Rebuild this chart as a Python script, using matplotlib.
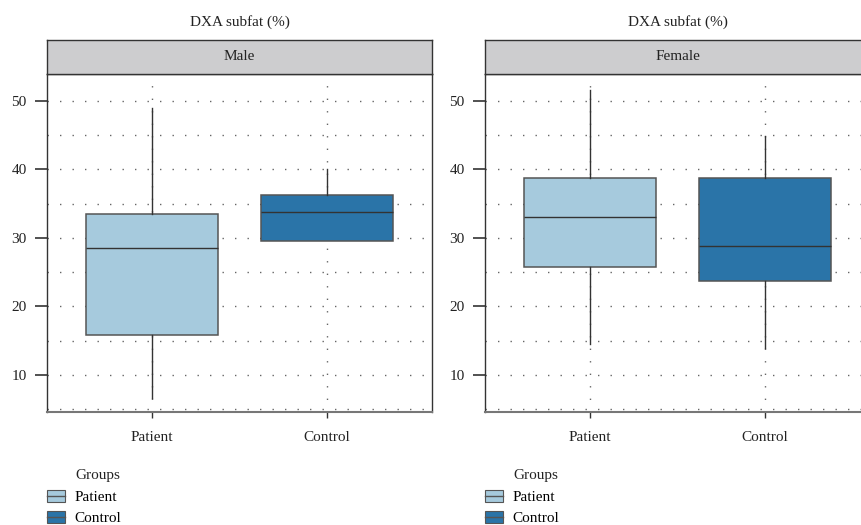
import numpy as np
import matplotlib.pyplot as plt
from matplotlib.patches import Patch
from matplotlib.lines import Line2D

plt.rcParams['font.family'] = ['Liberation Serif', 'DejaVu Serif']

# values (DXA subfat %)
panels = ['Male', 'Female']
groups = ['Patient', 'Control']
whislo = {'Male': [6.6, 29.6], 'Female': [14.5, 14.0]}
q1 = {'Male': [15.8, 29.6], 'Female': [25.8, 23.7]}
med = {'Male': [28.5, 33.8], 'Female': [33.1, 28.8]}
q3 = {'Male': [33.5, 36.2], 'Female': [38.7, 38.7]}
whishi = {'Male': [49.0, 40.1], 'Female': [51.6, 44.8]}
yticks = [10, 20, 30, 40, 50]
colors = ['#a6cadd', '#2a74a8']

W, H = 861, 525
fig = plt.figure(figsize=(W / 100, H / 100), dpi=100)

lefts = [47, 485]
ax_w, top, bottom, strip_h = 385, 74, 412, 34
fs = 11
grid_kw = dict(color='#666666', lw=1.0, dashes=(1, 8), zorder=0)

for panel, lx in zip(panels, lefts):
    ax = fig.add_axes([lx / W, (H - bottom) / H, ax_w / W, (bottom - top) / H])
    stats = []
    for i, g in enumerate(groups):
        stats.append(dict(label=g, whislo=whislo[panel][i], q1=q1[panel][i],
                          med=med[panel][i], q3=q3[panel][i],
                          whishi=whishi[panel][i], fliers=[]))
    bp = ax.bxp(stats, positions=[1, 2], widths=0.75, patch_artist=True,
                showcaps=False, showfliers=False,
                boxprops=dict(edgecolor='#555555', linewidth=1.1),
                medianprops=dict(color='#333333', linewidth=1.0),
                whiskerprops=dict(color='#333333', linewidth=1.0))
    for box, c in zip(bp['boxes'], colors):
        box.set_facecolor(c)
        box.set_zorder(2)
    for y in np.arange(5, 55, 5):
        ax.axhline(y, **grid_kw)
    for x in [1, 2]:
        ax.axvline(x, **grid_kw)
    ax.set_xlim(0.4, 2.6)
    ax.set_ylim(4.6, 53.9)
    ax.set_yticks(yticks)
    ax.set_xticks([1, 2])
    ax.set_xticklabels(groups)
    ax.tick_params(axis='y', length=8.6, width=1.2, color='#333333',
                   labelsize=fs, pad=6, labelcolor='#222222')
    ax.tick_params(axis='x', length=4.5, width=1.0, color='#333333',
                   labelsize=fs, pad=9, labelcolor='#222222')
    for s in ax.spines.values():
        s.set_color('#333333')
        s.set_linewidth(1.0)
    ax.spines['bottom'].set_color('#777777')
    ax.spines['bottom'].set_linewidth(1.5)

    # strip
    sax = fig.add_axes([lx / W, (H - top) / H, ax_w / W, strip_h / H])
    sax.set_facecolor('#cdcdcf')
    sax.set_xticks([])
    sax.set_yticks([])
    for s in sax.spines.values():
        s.set_color('#333333')
        s.set_linewidth(1.0)
    sax.text(0.5, 0.5, panel, ha='center', va='center', fontsize=fs,
             color='#222222', transform=sax.transAxes)
    fig.text((lx + ax_w / 2) / W, (H - 22) / H, 'DXA subfat (%)', ha='center',
             va='center', fontsize=fs, color='#222222')

    # legend
    handles = [(Patch(facecolor=c, edgecolor='#555555', lw=0.8),
                Line2D([], [], color='#555555', lw=1.0)) for c in colors]
    fig.legend(handles, groups, loc='upper left',
               bbox_to_anchor=((lx - 6) / W, (H - 484) / H), frameon=False,
               fontsize=fs, handlelength=1.2, handleheight=0.8,
               handletextpad=0.6, labelspacing=0.45, borderaxespad=0)
    fig.text((lx + 28) / W, (H - 475) / H, 'Groups', ha='left', va='center',
             fontsize=fs, color='#222222')

fig.savefig('out.png', dpi=100)
